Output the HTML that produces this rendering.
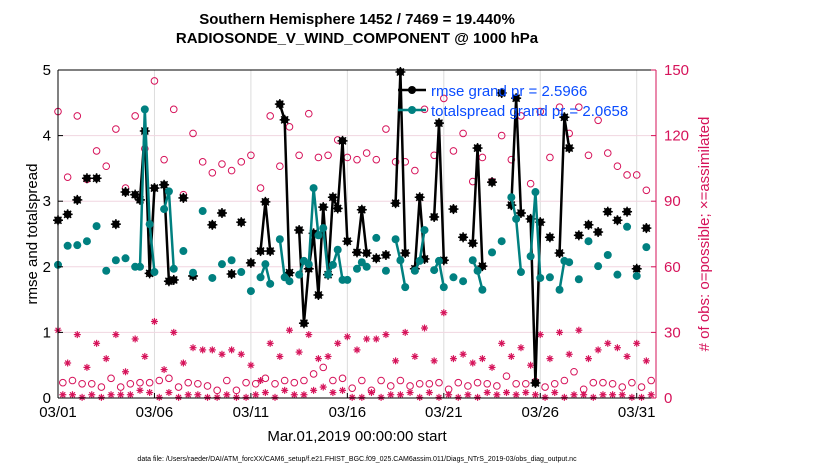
<!DOCTYPE html>
<html><head><meta charset="utf-8"><style>
body{margin:0;background:#fff;}
svg text{font-family:"Liberation Sans",sans-serif;}
</style></head><body>
<svg id="chart" width="830" height="470" xmlns="http://www.w3.org/2000/svg">
<rect width="830" height="470" fill="#fff"/>
<g id="grid"></g>
<g id="marks"></g>
<g id="axes"></g>
<text x="357" y="24" text-anchor="middle" font-size="15" font-weight="bold">Southern Hemisphere 1452 / 7469 = 19.440%</text>
<text x="357" y="43" text-anchor="middle" font-size="15" font-weight="bold">RADIOSONDE_V_WIND_COMPONENT @ 1000 hPa</text>
<text transform="translate(37,234) rotate(-90)" text-anchor="middle" font-size="15">rmse and totalspread</text>
<text transform="translate(709,234) rotate(-90)" text-anchor="middle" font-size="15" fill="#d6135a"># of obs: o=possible; ×=assimilated</text>
<text x="357" y="441" text-anchor="middle" font-size="15">Mar.01,2019 00:00:00 start</text>
<text x="357" y="461" text-anchor="middle" font-size="7">data file: /Users/raeder/DAI/ATM_forcXX/CAM6_setup/f.e21.FHIST_BGC.f09_025.CAM6assim.011/Diags_NTrS_2019-03/obs_diag_output.nc</text>
<g>
<line x1="398" y1="90" x2="426" y2="90" stroke="#000" stroke-width="2.5"/>
<circle cx="412" cy="90" r="4" fill="#000"/>
<text x="431" y="96" font-size="15" fill="#0a4cff">rmse grand pr = 2.5966</text>
<line x1="398" y1="110" x2="426" y2="110" stroke="#008080" stroke-width="2.5"/>
<circle cx="412" cy="110" r="4" fill="#008080"/>
<text x="431" y="116" font-size="15" fill="#0a4cff">totalspread grand pr = 2.0658</text>
</g>
</svg>
<script>
const times=[0,0.5,1,1.5,2,2.5,3,3.5,4,4.25,4.5,4.75,5,5.5,5.75,6,6.5,7,7.5,8,8.5,9,9.5,10,10.5,10.75,11,11.5,11.75,12,12.5,12.75,13,13.25,13.5,13.75,14,14.25,14.5,14.75,15,15.5,15.75,16,16.5,17,17.5,17.75,18,18.5,18.75,19,19.5,19.75,20,20.5,21,21.5,21.75,22,22.5,23,23.5,23.75,24,24.5,24.75,25,25.5,26,26.25,26.5,27,27.5,28,28.5,29,29.5,30,30.5];
const rmse=[2.71,2.80,3.02,3.35,3.35,null,2.65,3.14,3.10,3.02,4.07,1.90,3.20,3.25,1.78,1.80,3.05,1.86,null,2.64,2.82,1.89,2.68,2.06,2.24,2.99,2.24,4.48,4.24,1.91,2.56,1.14,1.97,2.51,1.57,2.91,1.88,3.06,2.89,3.92,2.39,2.22,2.87,2.21,2.13,2.18,2.97,4.97,2.21,1.97,3.06,2.12,2.76,4.19,2.10,2.88,2.45,2.36,3.81,2.01,3.29,4.65,2.94,4.57,2.82,2.73,0.23,2.68,2.45,2.21,4.28,3.81,2.48,2.64,2.53,2.84,2.71,2.84,1.97,2.59];
const spread=[2.03,2.32,2.33,2.39,2.62,1.94,2.10,2.13,2.0,2.0,4.40,2.65,1.92,2.88,3.15,1.97,2.24,1.91,2.85,1.83,2.04,2.10,1.92,1.63,1.84,2.04,1.74,2.42,1.84,1.78,1.88,2.09,2.04,3.20,2.48,2.59,1.88,2.03,2.26,1.80,1.80,1.97,2.07,2.0,2.44,1.94,2.42,2.10,1.69,1.94,2.09,2.56,1.95,2.09,1.69,1.84,1.78,2.10,1.94,1.65,2.22,2.39,3.06,2.73,1.92,2.16,3.14,1.83,1.84,1.65,2.09,2.07,1.81,2.39,2.01,2.18,1.88,2.61,1.86,2.30];
const possA=[131,101,129,100,113,106,123,96,129,114,145,109,132,93,121,108,103,107,104,108,111,96,129,106,124,111,130,110,111,118,110,109,112,109,123,108,108,104,132,111,137,113,121,99,110,99,120,109,129,98,131,110,133,121,133,111,127,112,106,102,102,95];
const assimA=[31,16,29,14,25,18,29,12,27,19,35,13,30,16,23,22,22,20,22,20,15,8,25,19,31,21,29,18,19,25,28,22,27,27,29,17,30,19,32,17,39,18,20,16,18,14,25,19,23,15,29,18,30,20,31,18,22,25,23,19,25,17];
const possB=[7,8,6.5,6.5,5,9,5,6.5,7,7,8,9,5,7,6.5,5.5,3.5,8,3.5,7,6.5,9,6.5,8,7,8,11,14,8,9,4.5,8,3.5,8,5.5,8,5.5,6.5,6.5,7,4,7,5.5,7,6.5,5.5,10,6.5,6.5,7.5,5,6.5,8,12,4,7,7,6.5,5,7,5,8];
const assimB=[1.5,1.5,0.3,1.5,0.3,1.5,1.5,1.5,3.5,2.5,0.3,2.5,0.3,1.5,1.5,0.3,0.3,1.5,0.3,0.3,1.5,2.5,0.3,3.5,1.5,1.5,3.5,5,2.5,3.5,0.3,0.3,2.5,0.3,1.5,1.5,2.5,0.3,2.5,0.3,1.5,0.3,1.5,0.3,2.5,1.5,2.5,1.5,2.5,1.5,0.3,2.5,0.3,1.5,1.5,0.3,1.5,1.5,1.5,0.3,0.3,1.5];
const xTickDays=[0,5,10,15,20,25,30];
const xTickLabels=["03/01","03/06","03/11","03/16","03/21","03/26","03/31"];
const yTicks=[0,1,2,3,4,5];
const rTicks=[0,30,60,90,120,150];

const X0=58,X1=656,Y0=398,Y1=70;
const xs=d=>X0+d*(X1-X0)/31;
const yl=v=>Y0-v*(Y0-Y1)/5;
const yr=v=>Y0-v*(Y0-Y1)/150;
const NS="http://www.w3.org/2000/svg";
function mk(tag,parent,attrs){const e=document.createElementNS(NS,tag);for(const k in attrs)e.setAttribute(k,attrs[k]);parent.appendChild(e);return e;}
const grid=document.getElementById('grid'),marks=document.getElementById('marks'),axes=document.getElementById('axes');
xTickDays.forEach(d=>{const l=mk('line',grid,{x1:xs(d),x2:xs(d),y1:Y1,y2:Y0,stroke:'#dcdcdc','stroke-width':1});

});
rTicks.slice(1,-1).forEach(v=>{const l=mk('line',grid,{x1:X0,x2:X1,y1:yr(v),y2:yr(v),stroke:'#f1d6e0','stroke-width':1});

});
const red='#d6135a';
function star(g,cx,cy,s,col,w){[[s,0],[0,s],[s*0.7,s*0.7],[s*0.7,-s*0.7]].forEach(([dx,dy])=>mk('line',g,{x1:cx-dx,y1:cy-dy,x2:cx+dx,y2:cy+dy,stroke:col,'stroke-width':w}));}
// obs counts
const offsA=times.length;
possA.forEach((v,i)=>{const c=mk('circle',marks,{cx:xs(i*0.5),cy:yr(v),r:3.3,fill:'none',stroke:red,'stroke-width':1});

});
possB.forEach((v,i)=>{const c=mk('circle',marks,{cx:xs(i*0.5+0.25),cy:yr(v),r:3.3,fill:'none',stroke:red,'stroke-width':1});

});
assimA.forEach((v,i)=>{const g=mk('g',marks,{});


star(g,xs(i*0.5),yr(v),3.5,red,1.2);});
assimB.forEach((v,i)=>{const g=mk('g',marks,{});


star(g,xs(i*0.5+0.25),yr(v),3.5,red,1.2);});
function series(vals,col,name,isStar){
  let seg=[];const segs=[];
  vals.forEach((v,i)=>{if(v===null||(seg.length&&times[i]-seg[seg.length-1][0]>0.3)){if(seg.length)segs.push(seg);seg=[];}
    if(v!==null)seg.push([times[i],v]);});
  if(seg.length)segs.push(seg);
  segs.forEach(s=>{if(s.length>1){const p=mk('polyline',marks,{points:s.map(q=>xs(q[0])+','+yl(q[1])).join(' '),fill:'none',stroke:col,'stroke-width':2.5,'stroke-linejoin':'round'});
    
    }});
  vals.forEach((v,i)=>{if(v===null)return;const g=mk('g',marks,{});
    
    
    mk('circle',g,{cx:xs(times[i]),cy:yl(v),r:isStar?3.8:4,fill:col});
    if(isStar)star(g,xs(times[i]),yl(v),5,col,1.5);});
}
series(rmse,'#000','rmse',true);
series(spread,'#008080','totalspread',false);
// axes
mk('line',axes,{x1:X0,x2:X0,y1:Y1,y2:Y0,stroke:'#000','stroke-width':1});
mk('line',axes,{x1:X0,x2:X1,y1:Y0,y2:Y0,stroke:'#000','stroke-width':1});
mk('line',axes,{x1:X0,x2:X1,y1:Y1,y2:Y1,stroke:'#000','stroke-width':1});
mk('line',axes,{x1:X1,x2:X1,y1:Y1,y2:Y0,stroke:red,'stroke-width':1});
yTicks.forEach(v=>{mk('line',axes,{x1:X0,x2:X0+5,y1:yl(v),y2:yl(v),stroke:'#000'});
  const t=mk('text',axes,{x:X0-7,y:yl(v)+5,'text-anchor':'end','font-size':15});t.textContent=v;
  
  });
rTicks.forEach(v=>{mk('line',axes,{x1:X1-5,x2:X1,y1:yr(v),y2:yr(v),stroke:red});
  const t=mk('text',axes,{x:X1+8,y:yr(v)+5,'font-size':15,fill:red});t.textContent=v;
  
  });
xTickDays.forEach((d,i)=>{mk('line',axes,{x1:xs(d),x2:xs(d),y1:Y0,y2:Y0-5,stroke:'#000'});
  const t=mk('text',axes,{x:xs(d),y:417,'text-anchor':'middle','font-size':15});t.textContent=xTickLabels[i];
  
  });
</script>
</body></html>
